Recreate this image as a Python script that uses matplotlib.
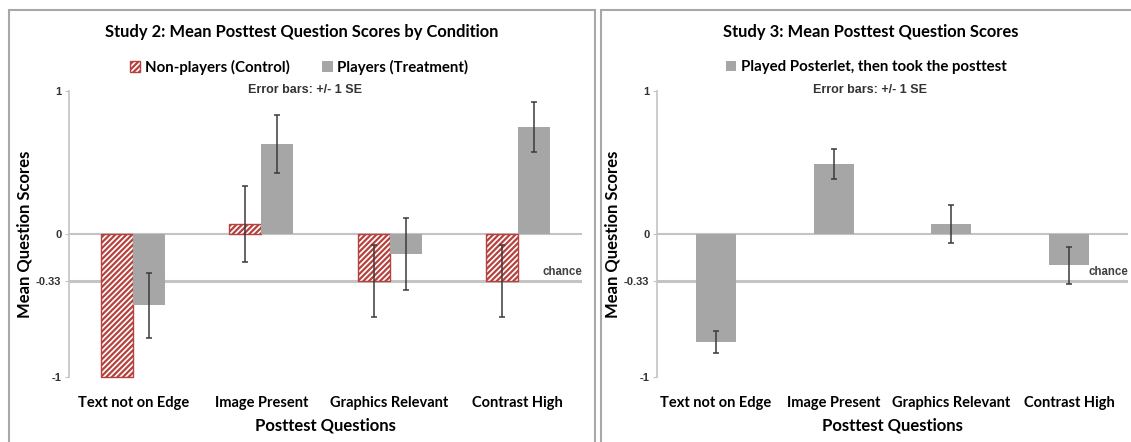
import numpy as np
import matplotlib
matplotlib.use("Agg")
import matplotlib.pyplot as plt
from matplotlib.patches import Rectangle, Patch

# data
questions = ["Text not on Edge", "Image Present", "Graphics Relevant", "Contrast High"]

# study 2
control_means = [-1.0, 0.07, -0.33, -0.33]
control_se = [0.0, 0.265, 0.25, 0.25]
players_means = [-0.50, 0.63, -0.14, 0.75]
players_se = [0.23, 0.20, 0.255, 0.175]

# study 3
posterlet_means = [-0.755, 0.49, 0.07, -0.22]
posterlet_se = [0.08, 0.105, 0.13, 0.13]

y_ticks = [1, 0, -0.33, -1]
y_tick_labels = ["1", "0", "-0.33", "-1"]
chance_level = -0.33

W, H = 1131, 442
GRAY_BAR = "#a6a6a6"
RED = "#b5423f"
LINE_GRAY = "#c4c4c4"
ERR = "#3a3a3a"
TITLE_FONT = "Lato"
SMALL_FONT = "Liberation Sans"

plt.rcParams["hatch.linewidth"] = 1.6
plt.rcParams["hatch.color"] = RED


def fx(px):
    return px / W


def fy(py):
    return 1 - py / H


def style_axes(ax, label_x):
    """Common look of both panels: gray spine, guide lines, bold labels."""
    ax.set_ylim(-1, 1)
    ax.set_xlim(-0.5, len(questions) - 0.5)
    for side in ["top", "right", "bottom"]:
        ax.spines[side].set_visible(False)
    ax.spines["left"].set_color(LINE_GRAY)
    ax.spines["left"].set_linewidth(1.2)
    ax.axhline(0, color=LINE_GRAY, lw=1.5, zorder=1)
    ax.axhline(chance_level, color=LINE_GRAY, lw=2.2, zorder=1)
    ax.text(len(questions) - 0.5, chance_level + 0.025, "chance", ha="right", va="bottom",
            fontsize=8.3, fontweight="bold", family=SMALL_FONT, color="#404040")

    ax.set_yticks(y_ticks)
    ax.set_yticklabels(y_tick_labels, fontsize=8, fontweight="bold", family=SMALL_FONT, color="#333333")
    ax.tick_params(axis="y", length=3, color=LINE_GRAY, pad=2.5)
    ax.set_xticks(np.arange(len(questions)))
    ax.set_xticklabels(questions, fontsize=10.5, fontweight="bold", family=TITLE_FONT)
    ax.tick_params(axis="x", length=0, pad=14)
    ax.set_xlabel("Posttest Questions", fontsize=12, fontweight="bold", family=TITLE_FONT, labelpad=5)
    ax.set_ylabel("Mean Question Scores", fontsize=12, fontweight="bold", family=TITLE_FONT)
    ax.yaxis.set_label_coords(label_x, 0.5)
    ax.patch.set_visible(False)


def panel_frame(fig, x0, x1):
    fig.patches.append(Rectangle((fx(x0), fy(460)), fx(x1 - x0), (460 - 10) / H,
                                 transform=fig.transFigure, fill=False,
                                 edgecolor="#a8a8a8", lw=1.5))


fig = plt.figure(figsize=(W / 100, H / 100), dpi=100)
fig.patch.set_facecolor("white")

panel_frame(fig, 9, 595)
panel_frame(fig, 601, 1140)

x = np.arange(len(questions))
err_kw = dict(ecolor=ERR, elinewidth=1.1, capsize=2.5, capthick=1.1)

# study 2 panel
ax1 = fig.add_axes([fx(69), fy(377), fx(582 - 69), (377 - 91) / H])
w = 0.25
ax1.bar(x - w / 2, control_means, w, color="white", edgecolor=RED, hatch="//////",
        lw=1.0, zorder=2, clip_on=False)
ax1.errorbar([xi - w / 2 for xi, s in zip(x, control_se) if s > 0],
             [m for m, s in zip(control_means, control_se) if s > 0],
             yerr=[s for s in control_se if s > 0], fmt="none", zorder=3, clip_on=False, **err_kw)
ax1.bar(x + w / 2, players_means, w, color=GRAY_BAR, lw=0, zorder=2)
ax1.errorbar(x + w / 2, players_means, yerr=players_se, fmt="none", zorder=3, clip_on=False, **err_kw)
style_axes(ax1, (33 - 69) / (582 - 69))

fig.text(fx(302), fy(32), "Study 2: Mean Posttest Question Scores by Condition", ha="center",
         va="center", fontsize=11.9, fontweight="bold", family=TITLE_FONT)
fig.legend([Patch(facecolor="white", edgecolor=RED, hatch="//////", lw=1.0),
            Patch(facecolor=GRAY_BAR, lw=0)],
           ["Non-players (Control)", "Players (Treatment)"],
           loc="center", bbox_to_anchor=(fx(299), fy(67)), ncol=2, frameon=False,
           prop={"family": TITLE_FONT, "weight": "bold", "size": 10.8},
           handlelength=0.7, handleheight=0.7, handletextpad=0.3, columnspacing=2.2)
fig.text(fx(305), fy(90), "Error bars: +/- 1 SE", ha="center", va="center",
         fontsize=9, fontweight="bold", family=SMALL_FONT, color="#333333")

# study 3 panel
ax2 = fig.add_axes([fx(657), fy(377), fx(1128 - 657), (377 - 91) / H])
ax2.bar(x, posterlet_means, 0.34, color=GRAY_BAR, lw=0, zorder=2)
ax2.errorbar(x, posterlet_means, yerr=posterlet_se, fmt="none", zorder=3, clip_on=False, **err_kw)
style_axes(ax2, (621 - 657) / (1128 - 657))

fig.text(fx(871), fy(32), "Study 3: Mean Posttest Question Scores", ha="center",
         va="center", fontsize=11.9, fontweight="bold", family=TITLE_FONT)
fig.legend([Patch(facecolor=GRAY_BAR, lw=0)], ["Played Posterlet, then took the posttest"],
           loc="center", bbox_to_anchor=(fx(866), fy(67)), frameon=False,
           prop={"family": TITLE_FONT, "weight": "bold", "size": 10.8},
           handlelength=0.7, handleheight=0.7, handletextpad=0.3)
fig.text(fx(870), fy(90), "Error bars: +/- 1 SE", ha="center", va="center",
         fontsize=9, fontweight="bold", family=SMALL_FONT, color="#333333")

fig.savefig("out.png", dpi=100)
